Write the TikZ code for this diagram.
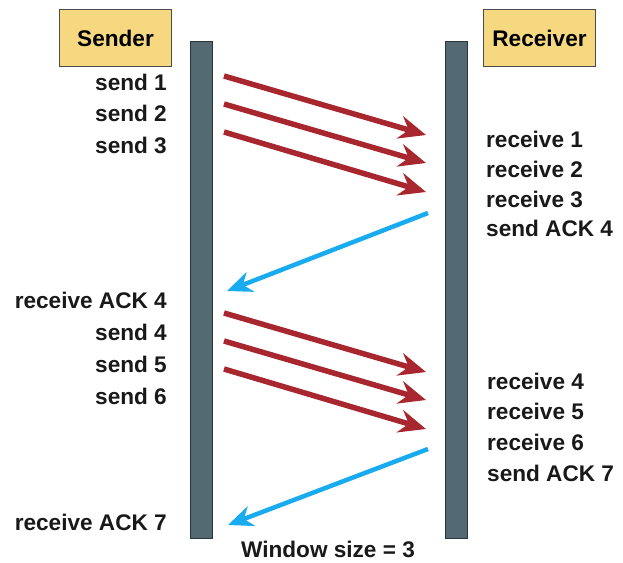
\documentclass[tikz,border=0pt]{standalone}
\usepackage{fontspec}
\setmainfont{Liberation Sans}
\usetikzlibrary{arrows.meta}
\definecolor{boxfill}{HTML}{F5D880}
\definecolor{boxline}{HTML}{4A4A4A}
\definecolor{barfill}{HTML}{536A73}
\definecolor{barline}{HTML}{2C363A}
\definecolor{datared}{HTML}{A8262E}
\definecolor{ackblue}{HTML}{19ABF0}
\begin{document}
\begin{tikzpicture}[x=1pt,y=-1pt,
  lbl/.style={inner sep=0pt,font=\fontsize{22.6}{25}\selectfont\bfseries,text=black!90},
  lleft/.style={lbl,anchor=base east},
  lright/.style={lbl,anchor=base west},
  hostbox/.style={draw=boxline,line width=1pt,fill=boxfill,minimum width=112pt,minimum height=57pt,inner sep=0pt,anchor=north west,font=\fontsize{22.6}{25}\selectfont\bfseries},
  timebar/.style={draw=barline,line width=1pt,fill=barfill,minimum width=22pt,minimum height=497pt,inner sep=0pt,anchor=north west},
  datamsg/.style={draw=datared,line width=5.5pt,-{Stealth[length=27pt,width=23pt,inset=9pt]}},
  ackmsg/.style={draw=ackblue,line width=4.5pt,-{Stealth[length=25pt,width=21pt,inset=8pt]}}]
\useasboundingbox (0,0) rectangle (623,562);
\fill[white] (0,0) rectangle (623,562);

\node[hostbox] (sender) at (59,9) {Sender};
\node[hostbox] (receiver) at (483,9) {Receiver};
\node[timebar] (sbar) at (190,41) {};
\node[timebar] (rbar) at (445,41) {};

% sender labels
\node[lleft] (ls1) at (167,90) {send 1};
\node[lleft] (ls2) at (167,121) {send 2};
\node[lleft] (ls3) at (167,153) {send 3};
\node[lleft] (lra4) at (167,308) {receive ACK 4};
\node[lleft] (ls4) at (167,340) {send 4};
\node[lleft] (ls5) at (167,372) {send 5};
\node[lleft] (ls6) at (167,404) {send 6};
\node[lleft] (lra7) at (167,530) {receive ACK 7};

% receiver labels
\node[lright] (lr1) at (486,147) {receive 1};
\node[lright] (lr2) at (486,177) {receive 2};
\node[lright] (lr3) at (486,207) {receive 3};
\node[lright] (lsa4) at (486,236) {send ACK 4};
\node[lright] (lr4) at (487,389) {receive 4};
\node[lright] (lr5) at (487,419) {receive 5};
\node[lright] (lr6) at (487,450) {receive 6};
\node[lright] (lsa7) at (487,481) {send ACK 7};

\node[lbl,anchor=base] (win) at (328,557) {Window size = 3};

% message endpoints
\coordinate (a1) at (224,76);  \coordinate (b1) at (426,135);
\coordinate (a2) at (224,104); \coordinate (b2) at (426,163);
\coordinate (a3) at (224,132); \coordinate (b3) at (426,192);
\coordinate (c4) at (428,213); \coordinate (d4) at (227,291);
\coordinate (a4) at (224,313); \coordinate (b4) at (426,372);
\coordinate (a5) at (224,341); \coordinate (b5) at (426,400);
\coordinate (a6) at (224,369); \coordinate (b6) at (426,429);
\coordinate (c7) at (428,449); \coordinate (d7) at (228,525);

\draw[datamsg] (a1) -- (b1);
\draw[datamsg] (a2) -- (b2);
\draw[datamsg] (a3) -- (b3);
\draw[ackmsg] (c4) -- (d4);
\draw[datamsg] (a4) -- (b4);
\draw[datamsg] (a5) -- (b5);
\draw[datamsg] (a6) -- (b6);
\draw[ackmsg] (c7) -- (d7);
\end{tikzpicture}
\end{document}
